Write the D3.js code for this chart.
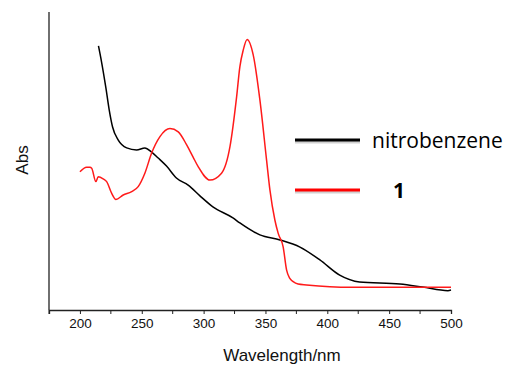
<!DOCTYPE html>
<html>
<head>
<meta charset="utf-8">
<script src="https://cdn.jsdelivr.net/npm/d3@7"></script>
<style>
  body { margin: 0; background: #fff; }
  svg { display: block; }
</style>
</head>
<body>
<div id="chart"></div>
<script>
// wavelength (nm) / absorbance
const nitroWave = [215, 217.5, 221, 223.7, 226.4, 231, 237.8, 245.8, 252.5, 258, 263.3, 270, 278, 287.5, 297, 307.5, 323.7, 329.3, 345.5, 361.7, 377.9, 394, 410, 426, 458.7, 477, 497.5, 500];
const nitroAbs = [0.886, 0.832, 0.745, 0.671, 0.614, 0.570, 0.544, 0.537, 0.544, 0.530, 0.510, 0.483, 0.443, 0.419, 0.383, 0.346, 0.309, 0.292, 0.252, 0.235, 0.211, 0.168, 0.117, 0.094, 0.087, 0.077, 0.065, 0.067];

const cmpWave = [200, 205.4, 208.1, 209.5, 212.9, 214.8, 218.8, 221.6, 225.6, 229.1, 235, 241.8, 247.1, 252.5, 257.9, 264.7, 272.8, 279.5, 286.3, 291.4, 295.6, 305.1, 314.5, 321.3, 326.7, 329.3, 332, 335.2, 340.1, 345.5, 350.9, 353.6, 357.6, 360.3, 364.3, 367.1, 369.7, 372.4, 376.4, 383.2, 402.1, 418.3, 458.7, 500];
const cmpAbs = [0.464, 0.479, 0.479, 0.476, 0.431, 0.447, 0.440, 0.431, 0.392, 0.371, 0.386, 0.397, 0.414, 0.459, 0.526, 0.582, 0.609, 0.598, 0.554, 0.514, 0.481, 0.436, 0.459, 0.548, 0.716, 0.816, 0.872, 0.908, 0.856, 0.705, 0.503, 0.403, 0.302, 0.257, 0.212, 0.134, 0.106, 0.095, 0.087, 0.084, 0.078, 0.076, 0.076, 0.076];

const majorTicks = [200, 250, 300, 350, 400, 450, 500];
const minorTicks = [175, 225, 275, 325, 375, 425, 475];

const seriesNames = ["nitrobenzene", "1"];
const colors = ["#000000", "#ff1a1a"];
const legendColors = ["#000000", "#ff0000"];

const width = 515, height = 367;
const margin = { top: 12, right: 64, bottom: 57, left: 49 };

const svg = d3.select("#chart").append("svg")
  .attr("width", width)
  .attr("height", height);

const x = d3.scaleLinear().domain([175, 500]).range([margin.left, width - margin.right]);
const y = d3.scaleLinear().domain([0, 1]).range([height - margin.bottom, margin.top]);

// x axis with major + minor ticks
const xAxis = svg.append("g")
  .attr("transform", "translate(0," + y(0) + ")")
  .call(d3.axisBottom(x).tickValues(majorTicks).tickSize(4).tickPadding(4).tickFormat(d3.format("d")));
xAxis.select(".domain").attr("stroke", "#222").attr("stroke-width", 1.3);
xAxis.selectAll(".tick line").attr("stroke", "#222");
xAxis.selectAll("text")
  .style("font-family", "'Liberation Sans', Arial, sans-serif")
  .style("font-size", "13.5px")
  .attr("fill", "#111");

svg.append("g").selectAll("line")
  .data(minorTicks)
  .enter().append("line")
  .attr("x1", d => x(d)).attr("x2", d => x(d))
  .attr("y1", y(0)).attr("y2", y(0) + 4)
  .attr("stroke", "#222");

// y axis: plain line, no ticks
svg.append("line")
  .attr("x1", x(175)).attr("x2", x(175))
  .attr("y1", y(0)).attr("y2", y(1))
  .attr("stroke", "#222").attr("stroke-width", 1.3);

// axis titles
svg.append("text")
  .attr("x", 282)
  .attr("y", 361)
  .attr("text-anchor", "middle")
  .style("font-family", "'Liberation Sans', Arial, sans-serif")
  .style("font-size", "17px")
  .attr("fill", "#111")
  .text("Wavelength/nm");

svg.append("text")
  .attr("transform", "translate(28,160) rotate(-90)")
  .attr("text-anchor", "middle")
  .style("font-family", "'Liberation Sans', Arial, sans-serif")
  .style("font-size", "17px")
  .attr("fill", "#111")
  .text("Abs");

// curves
const line = d3.line()
  .x(d => x(d[0]))
  .y(d => y(d[1]))
  .curve(d3.curveMonotoneX);

const series = [
  d3.zip(nitroWave, nitroAbs),
  d3.zip(cmpWave, cmpAbs)
];

svg.selectAll("path.series")
  .data(series)
  .enter().append("path")
  .attr("class", "series")
  .attr("fill", "none")
  .attr("stroke", (d, i) => colors[i])
  .attr("stroke-width", 1.5)
  .attr("stroke-linejoin", "round")
  .attr("d", d => line(d));

// legend
const legend = svg.selectAll(".legend")
  .data(seriesNames)
  .enter().append("g")
  .attr("class", "legend")
  .attr("transform", (d, i) => "translate(295," + (140 + i * 50) + ")");

// soft shadow under the legend lines
legend.append("line")
  .attr("x1", 0).attr("x2", 65)
  .attr("y1", 2).attr("y2", 2)
  .attr("stroke", "#000")
  .attr("stroke-opacity", 0.18)
  .attr("stroke-width", 3);

legend.append("line")
  .attr("x1", 0).attr("x2", 65)
  .attr("y1", 0).attr("y2", 0)
  .attr("stroke", (d, i) => legendColors[i])
  .attr("stroke-width", 3);

legend.append("text")
  .attr("x", (d, i) => i === 0 ? 77 : 98)
  .attr("y", 8)
  .style("font-family", "'Open Sans', sans-serif")
  .style("font-size", "21px")
  .style("font-weight", (d, i) => i === 0 ? "normal" : "bold")
  .attr("fill", "#000")
  .text(d => d);
</script>
</body>
</html>
